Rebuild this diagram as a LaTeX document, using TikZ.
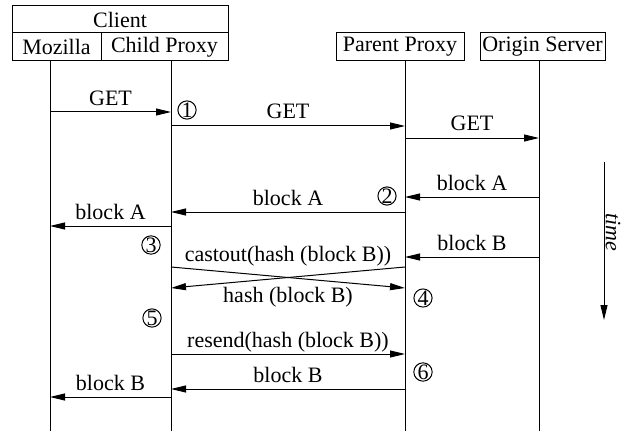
\documentclass[tikz,border=0pt]{standalone}
\usepackage{fontspec}
\setmainfont{Liberation Serif}
\usetikzlibrary{arrows.meta}

\begin{document}
\begin{tikzpicture}
[x=0.5pt,y=-0.5pt,line width=0.5pt,
  font=\fontsize{11}{13}\selectfont,
  boxDecorate/.style={shape=rectangle,draw,inner sep=0pt},%
  lineDecorate/.style={-},%
  msgDecorate/.style={-{Triangle[length=7.5pt,width=3.5pt]}},%
  labelDecorate/.style={anchor=base,yshift=3.5pt,inner sep=0pt},%
  stepDecorate/.style={shape=circle,draw,inner sep=0pt,minimum size=9pt}]
\useasboundingbox (0,0) rectangle (626,433);
%% header boxes
\foreach \nodename/\x/\y/\w/\h/\txt in {client/120/19.5/216/27/Client, moz/56.5/47/89/28/Mozilla,
  child/164.5/47/127/28/Child Proxy, parent/400/47/128/28/Parent Proxy, origin/542.5/47/125/28/Origin Server} {
  \node (\nodename) at (\x,\y) [boxDecorate,minimum width=\w*0.5pt,minimum height=\h*0.5pt] {\txt};
}
%% lifelines
\foreach \nodename/\x in {mozL/50, childL/171, parentL/405, originL/539} {
  \coordinate (\nodename) at (\x,61);
  \coordinate (\nodename-end) at (\x,431);
  \draw[lineDecorate] (\nodename) -- (\nodename-end);
}
%% messages
\foreach \startnode/\endnode/\y/\txt in {mozL/childL/112/GET, childL/parentL/126/GET, parentL/originL/138/GET,
  originL/parentL/197/block A, parentL/childL/212/block A, childL/mozL/226/block A, originL/parentL/257/block B,
  childL/parentL/354/resend(hash (block B)), parentL/childL/389/block B, childL/mozL/397/block B} {
  \draw[msgDecorate] (\startnode |- 0,\y) -- node[labelDecorate] {\txt} (\endnode |- 0,\y);
}
\draw[msgDecorate] (childL |- 0,267) -- node[anchor=base,yshift=8.25pt,inner sep=0pt] {castout(hash (block B))} (parentL |- 0,288);
\draw[msgDecorate] (parentL |- 0,267) -- node[anchor=base,yshift=-12.25pt,inner sep=0pt] {hash (block B)} (childL |- 0,288);
%% steps
\foreach \nodename/\x/\y/\num in {s1/187/110/1, s2/387/196/2, s3/151/245/3, s4/423/298/4, s5/152/318/5, s6/423/372/6} {
  \node (\nodename) at (\x,\y) [stepDecorate] {\num};
}
%% time axis
\coordinate (timeStart) at (604,162);
\coordinate (timeEnd) at (604,320);
\draw[msgDecorate] (timeStart) -- (timeEnd);
\node (timeLabel) at (613,232) [rotate=-90,font=\fontsize{11}{13}\selectfont\itshape] {time};
\end{tikzpicture}
\end{document}
